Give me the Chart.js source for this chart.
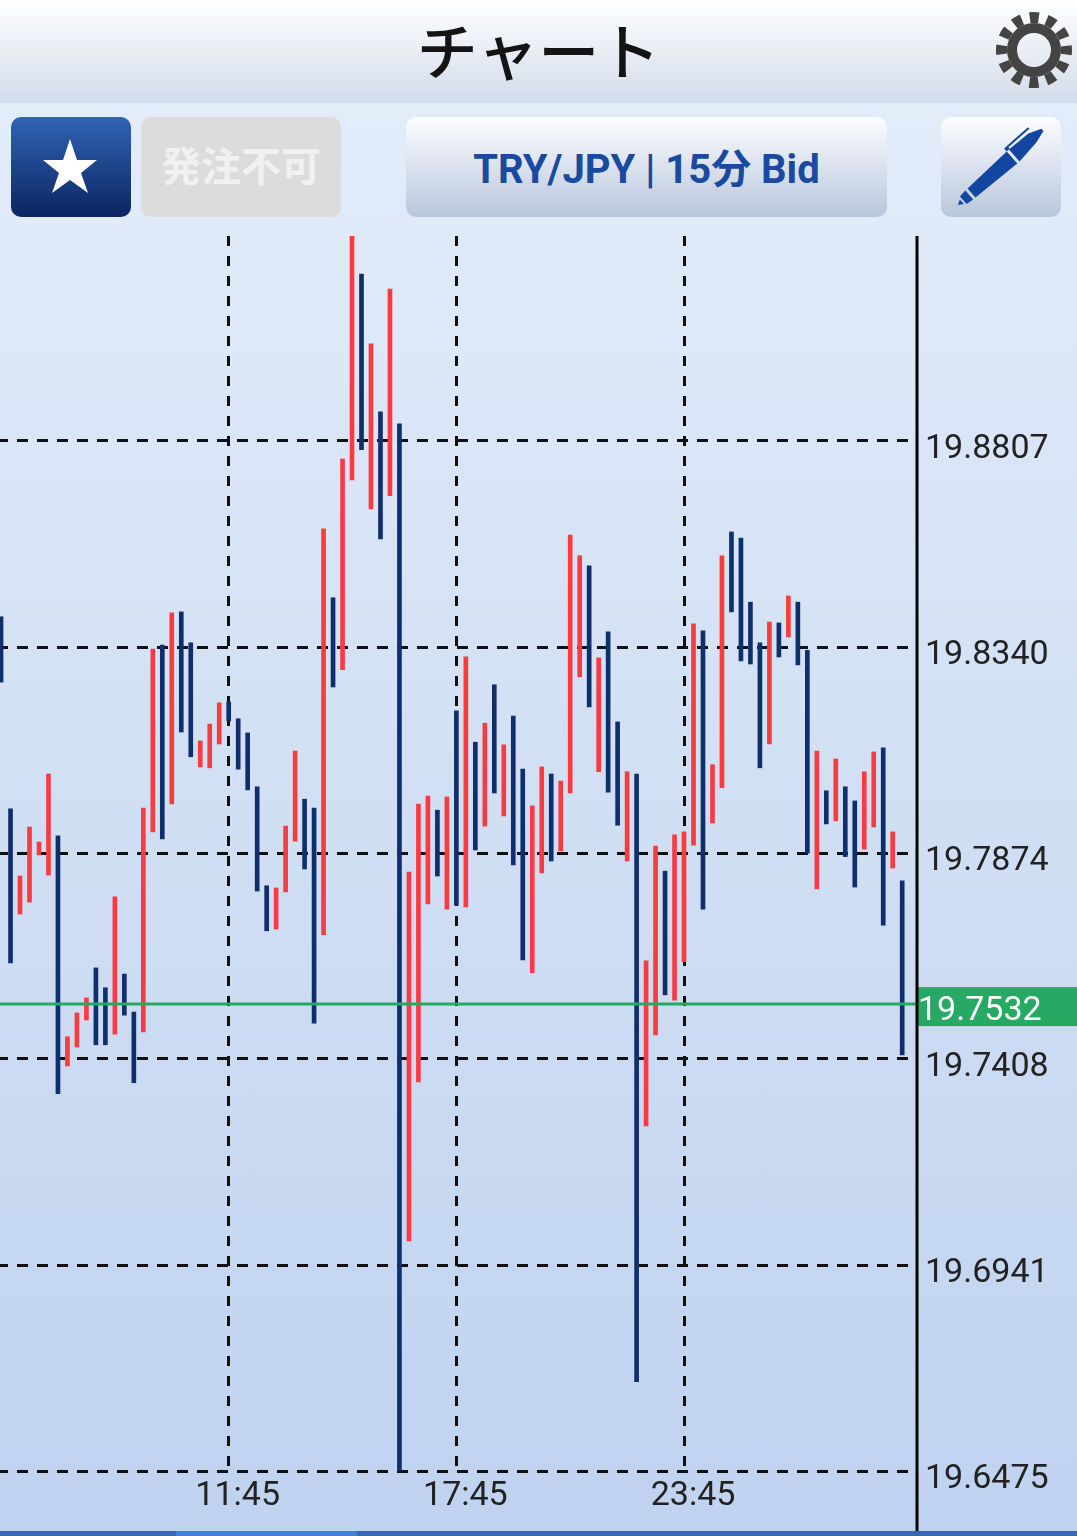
<!DOCTYPE html>
<html lang="ja">
<head>
<meta charset="utf-8">
<title>チャート</title>
<script src="https://cdn.jsdelivr.net/npm/chart.js@4/dist/chart.umd.min.js"></script>
<style>
    html, body { margin: 0; padding: 0; }
    body {
        width: 1077px;
        height: 1536px;
        position: relative;
        overflow: hidden;
        background: linear-gradient(180deg, #e5eefa 0%, #bfd2ef 100%);
        font-family: Roboto, "Noto Sans CJK JP", sans-serif;
    }
    .header {
        position: absolute; left: 0; top: 0; width: 1077px; height: 103px;
        background: linear-gradient(180deg, #ffffff 0%, #d2dcea 100%);
        text-align: center;
    }
    .header h1 {
        margin: 0; font: 500 61px/98px "Noto Sans CJK JP", sans-serif; color: #141414;
    }
    .btn {
        position: absolute; top: 117px; height: 100px; border-radius: 10px;
        text-align: center; line-height: 100px; box-sizing: border-box;
    }
    .btn-light { background: linear-gradient(180deg, #fcfdff 0%, #b9c6dc 100%); }
    #starBtn { left: 11px; width: 120px; background: linear-gradient(180deg, #3063b5 0%, #0b2560 100%); }
    #orderBtn { left: 141px; width: 200px; background: #dcdcdc; color: #f1f1f1; font: 700 40px/94px "Noto Sans CJK JP", sans-serif; }
    #symbolBtn { left: 406px; width: 481px; color: #1a4a9f; font-weight: 700; font-size: 40px; line-height: 106px; }
    #penBtn { left: 941px; width: 120px; }
    svg { position: absolute; left: 0; top: 0; }
    #chartWrap { position: absolute; left: 0; top: 236px; width: 1077px; height: 1295px; }
    #scrollBar { position: absolute; left: 0; top: 1531px; width: 1077px; height: 5px; background: #3a66b6; }
    #scrollThumb { position: absolute; left: 176px; top: 0; width: 181px; height: 5px; background: #4080dc; }
</style>
</head>
<body>
<div class="header"><h1>チャート</h1></div>
<svg width="1077" height="103" style="z-index:2">
    <g fill="none" stroke="#444444">
        <circle cx="1034" cy="50" r="22" stroke-width="10"/>
        <circle cx="1034" cy="50" r="32.5" stroke-width="11" stroke-dasharray="9 8.02" stroke-dashoffset="4.5"/>
    </g>
</svg>
<div class="btn" id="starBtn">
    <svg width="120" height="100"><polygon fill="#fff" points="59,22 66,43 86,43 70,56 77,76 59,63 41,76 48,56 32,43 52,43"/></svg>
</div>
<div class="btn" id="orderBtn">発注不可</div>
<div class="btn btn-light" id="symbolBtn">TRY/JPY | 15分 Bid</div>
<div class="btn btn-light" id="penBtn">
    <svg width="120" height="100">
        <g transform="translate(17,88) rotate(-41.4)" fill="#1346a0">
            <polygon points="0,0 5,-3 5,3"/>
            <polygon points="7,-5 15,-6 15,6 7,5"/>
            <polygon points="18,-6 72,-8 72,8 18,6"/>
            <polygon points="75,-8 100,-7 113,-2 113,1 100,5 75,8"/>
            <polygon points="72,-12 104,-12 104,-10 76,-10 76,-8 72,-8"/>
        </g>
    </svg>
</div>
<div id="chartWrap"><canvas id="fxChart" width="1077" height="1295"></canvas></div>
<div id="scrollBar"><div id="scrollThumb"></div></div>

<script>
// one entry per 15 minute bar, oldest first
const barHighs = [
    19.8409, 19.7974, 19.7822, 19.7933, 19.7899, 19.8053, 19.7913, 19.7458, 19.7512, 19.7546,
    19.7614, 19.7569, 19.7775, 19.7600, 19.7514, 19.7976, 19.8336, 19.8345, 19.8418, 19.8420,
    19.8350, 19.8128, 19.8166, 19.8214, 19.8216, 19.8178, 19.8146, 19.8024, 19.7800, 19.7795,
    19.7935, 19.8105, 19.7996, 19.7976, 19.8608, 19.8452, 19.8766, 19.9273, 19.9185, 19.9027,
    19.8873, 19.9151, 19.8846, 19.7831, 19.7985, 19.8003, 19.7971, 19.8001, 19.8196, 19.8318,
    19.8125, 19.8168, 19.8255, 19.8119, 19.8184, 19.8064, 19.7981, 19.8069, 19.8053, 19.8037,
    19.8594, 19.8547, 19.8524, 19.8316, 19.8375, 19.8171, 19.8058, 19.8053, 19.7630, 19.7890,
    19.7833, 19.7915, 19.7922, 19.8393, 19.8377, 19.8074, 19.8547, 19.8601, 19.8587, 19.8442,
    19.8350, 19.8397, 19.8395, 19.8456, 19.8442, 19.8333, 19.8105, 19.8015, 19.8087, 19.8024,
    19.7992, 19.8058, 19.8103, 19.8112, 19.7922, 19.7811
];
const barLows = [
    19.8261, 19.7625, 19.7736, 19.7763, 19.7870, 19.7824, 19.7329, 19.7392, 19.7435, 19.7496,
    19.7440, 19.7440, 19.7464, 19.7507, 19.7354, 19.7469, 19.7922, 19.7906, 19.7985, 19.8148,
    19.8092, 19.8069, 19.8067, 19.8121, 19.8173, 19.8064, 19.8017, 19.7788, 19.7698, 19.7702,
    19.7786, 19.7901, 19.7838, 19.7489, 19.7689, 19.8250, 19.8289, 19.8719, 19.8787, 19.8653,
    19.8585, 19.8683, 19.6475, 19.6996, 19.7356, 19.7759, 19.7822, 19.7747, 19.7756, 19.7752,
    19.7881, 19.7935, 19.8010, 19.7958, 19.7847, 19.7632, 19.7603, 19.7829, 19.7856, 19.7879,
    19.8010, 19.8273, 19.8205, 19.8058, 19.8012, 19.7937, 19.7856, 19.6677, 19.7256, 19.7462,
    19.7553, 19.7541, 19.7628, 19.7892, 19.7747, 19.7942, 19.8022, 19.8420, 19.8309, 19.8302,
    19.8067, 19.8121, 19.8318, 19.8363, 19.8300, 19.7874, 19.7793, 19.7940, 19.7947, 19.7866,
    19.7797, 19.7883, 19.7933, 19.7711, 19.7840, 19.7417
];
// 1 = red bar, 0 = navy bar
const barRising = [
    0, 0, 1, 1, 1, 1, 0, 1, 1, 1,
    0, 0, 1, 0, 0, 1, 1, 0, 1, 0,
    0, 1, 1, 1, 0, 0, 0, 0, 0, 1,
    1, 1, 0, 0, 1, 0, 1, 1, 0, 1,
    0, 1, 0, 1, 1, 1, 0, 1, 0, 1,
    0, 1, 0, 1, 0, 0, 1, 1, 0, 1,
    1, 1, 0, 1, 0, 0, 1, 0, 1, 1,
    0, 1, 1, 1, 0, 1, 1, 0, 0, 0,
    0, 1, 0, 1, 0, 0, 1, 0, 1, 0,
    0, 1, 1, 0, 1, 0
];
const priceTicks = [19.6475, 19.6941, 19.7408, 19.7874, 19.8340, 19.8807];
const timeTickBars = [24, 48, 72];
const timeTickLabels = ['11:45', '17:45', '23:45'];
const currentPrice = 19.7532;

const RED = '#f93a3f';
const NAVY = '#0f2e6c';
const GREEN = '#25a963';
const TICK_COLOR = '#222222';

const xMin = -0.11;
const xMax = 96.56;

// price box on the axis and the part of the axis line below the plot
const priceBoxPlugin = {
    id: 'priceBox',
    afterDraw(chart) {
        const ctx = chart.ctx;
        const area = chart.chartArea;
        const y = chart.scales.y.getPixelForValue(currentPrice);
        ctx.save();
        ctx.fillStyle = GREEN;
        ctx.fillRect(area.right, y - 17, chart.width - area.right, 39);
        ctx.fillStyle = '#ffffff';
        ctx.font = '34px Roboto';
        ctx.textBaseline = 'middle';
        ctx.fillText(currentPrice.toFixed(4), area.right + 1, y + 7);
        ctx.strokeStyle = '#000000';
        ctx.lineWidth = 3;
        ctx.beginPath();
        ctx.moveTo(area.right, area.top);
        ctx.lineTo(area.right, chart.height);
        ctx.stroke();
        ctx.restore();
    }
};

new Chart(document.getElementById('fxChart'), {
    type: 'bar',
    data: {
        datasets: [{
            type: 'line',
            order: 0,
            data: [{ x: xMin, y: currentPrice }, { x: xMax, y: currentPrice }],
            borderColor: GREEN,
            borderWidth: 3,
            pointRadius: 0
        }, {
            type: 'bar',
            order: 1,
            data: barHighs.map((high, i) => ({ x: i, y: [barLows[i], high] })),
            backgroundColor: barRising.map(up => up ? RED : NAVY),
            barThickness: 4,
            borderWidth: 0
        }]
    },
    options: {
        responsive: false,
        animation: false,
        layout: { padding: 0, autoPadding: false },
        plugins: {
            legend: { display: false },
            tooltip: { enabled: false }
        },
        scales: {
            x: {
                type: 'linear',
                offset: false,
                min: xMin,
                max: xMax,
                afterBuildTicks: axis => { axis.ticks = timeTickBars.map(value => ({ value })); },
                afterFit: axis => { axis.height = 60; },
                border: { display: false, dash: [10, 10] },
                grid: {
                    offset: false,
                    color: '#111111',
                    lineWidth: 3,
                    drawTicks: false
                },
                ticks: {
                    autoSkip: false,
                    maxRotation: 0,
                    padding: 5,
                    labelOffset: 9,
                    color: TICK_COLOR,
                    font: { family: 'Roboto', size: 34 },
                    callback: value => timeTickLabels[timeTickBars.indexOf(value)]
                }
            },
            y: {
                type: 'linear',
                position: 'right',
                min: 19.6475,
                max: 19.9271,
                afterBuildTicks: axis => { axis.ticks = priceTicks.map(value => ({ value })); },
                afterFit: axis => {
                    axis.width = 160;
                    // the label height would otherwise push the plot down
                    axis.paddingTop = 0;
                    axis.paddingBottom = 0;
                },
                border: { display: false, dash: [11, 9], dashOffset: 3 },
                grid: {
                    color: '#111111',
                    lineWidth: 3,
                    drawTicks: false
                },
                ticks: {
                    padding: 8,
                    labelOffset: 8.5,
                    color: TICK_COLOR,
                    font: { family: 'Roboto', size: 34 },
                    callback: value => value.toFixed(4)
                }
            }
        }
    },
    plugins: [priceBoxPlugin]
});
</script>
</body>
</html>
